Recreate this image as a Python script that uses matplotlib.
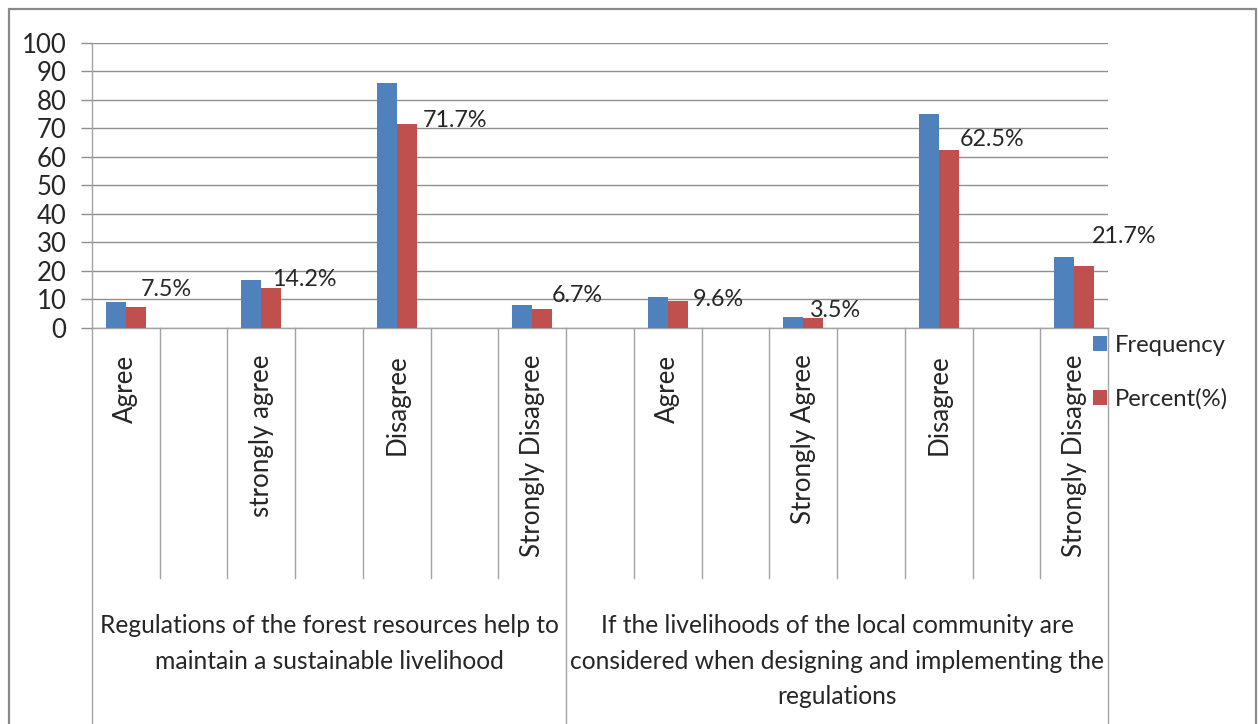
import numpy as np
import matplotlib
matplotlib.use('Agg')
import matplotlib.pyplot as plt
from matplotlib.patches import Rectangle

plt.rcParams['font.family'] = ['Lato', 'DejaVu Sans']

# Excel-style table axis: empty strings are the spacer slots
categories = ['Agree', '', 'strongly agree', '', 'Disagree', '', 'Strongly Disagree',
              '', 'Agree', '', 'Strongly Agree', '', 'Disagree', '', 'Strongly Disagree']
frequency = [9, None, 17, None, 86, None, 8, None, 11, None, 4, None, 75, None, 25]
percent = [7.5, None, 14.2, None, 71.7, None, 6.7, None, 9.6, None, 3.5, None, 62.5, None, 21.7]
groups = ['Regulations of the forest resources help to\nmaintain a sustainable livelihood',
          'If the livelihoods of the local community are\nconsidered when designing and implementing the\nregulations']
group_edges = [(-0.5, 6.5), (6.5, 14.5)]
yticks = list(range(0, 101, 10))

# hand placed data labels in the original (pixels from the red bar top)
label_dx = [5, 1, 16, 9, 15, -3, 11, 8]
label_dy = [11, 2, -3, 7, -5, 1, 4, 23]

blue = '#4F81BD'
red = '#C0504D'
grid_c = '#8f8f8f'
line_c = '#a3a3a3'
txt_c = '#262626'

W, H = 1258, 724
fig = plt.figure(figsize=(W / 100, H / 100), dpi=100)
ax_l, ax_r, ax_t, ax_b = 92, 1108, 43, 328
ax = fig.add_axes([ax_l / W, 1 - ax_b / H, (ax_r - ax_l) / W, (ax_b - ax_t) / H])

def yfrac(pix):
    # image row -> axes fraction
    return (ax_b - pix) / (ax_b - ax_t)

x = np.arange(len(categories))
freq = np.array([np.nan if v is None else v for v in frequency], float)
perc = np.array([np.nan if v is None else v for v in percent], float)
w = 0.295
b1 = ax.bar(x - w / 2, freq, w, color=blue, label='Frequency', zorder=3)
b2 = ax.bar(x + w / 2, perc, w, color=red, label='Percent(%)', zorder=3)

# data labels on the percent series
k = 0
for xi, v in zip(x, perc):
    if np.isnan(v):
        continue
    ax.annotate('%.1f%%' % v, (xi + w / 2, v), xytext=(label_dx[k], label_dy[k]),
                textcoords='offset pixels', ha='left', va='baseline',
                fontsize=16.8, color=txt_c, zorder=4, annotation_clip=False)
    k += 1

ax.set_xlim(-0.5, len(categories) - 0.5)
ax.set_ylim(0, 100)
ax.set_yticks(yticks)
ax.yaxis.grid(True, color=grid_c, lw=1.0, zorder=0)
ax.set_axisbelow(True)
for s in ['top', 'right']:
    ax.spines[s].set_visible(False)
for s in ['left', 'bottom']:
    ax.spines[s].set_color(line_c)
    ax.spines[s].set_linewidth(1.0)
ax.tick_params(axis='y', length=8, width=1.0, color=grid_c, pad=10.5,
               labelsize=18.5, labelcolor=txt_c)
ax.set_xticks(x)
ax.set_xticklabels(categories, rotation=90, fontsize=18.7, color=txt_c)
ax.tick_params(axis='x', length=0, pad=19)

# table lines under the axis
tr = ax.get_xaxis_transform()
outer = [e for g in group_edges for e in g]
for b in np.arange(-0.5, len(categories)):
    bottom = yfrac(760) if b in outer else yfrac(578)
    ax.plot([b, b], [0, bottom], color=line_c, lw=1.0, transform=tr, clip_on=False)

# second level labels
for (a, c), g in zip(group_edges, groups):
    ax.text((a + c) / 2, yfrac(614), g, transform=tr, ha='center', va='top',
            multialignment='center', fontsize=17.7, color=txt_c, linespacing=1.66)

leg = ax.legend(handles=[b1, b2], loc='upper left', frameon=False,
                bbox_to_anchor=(1093 / W, 1 - 335 / H), bbox_transform=fig.transFigure,
                fontsize=17.2, handlelength=0.6, handleheight=0.6, handletextpad=0.3,
                labelspacing=1.36, borderpad=0, borderaxespad=0)
for t in leg.get_texts():
    t.set_color(txt_c)

# chart frame
fig.patches.append(Rectangle((9 / W, -0.1), (1256 - 9) / W, 1.1 - 9 / H,
                             transform=fig.transFigure, fill=False,
                             edgecolor='#8a8a8a', lw=1.6))

fig.savefig('out.png', dpi=100)
